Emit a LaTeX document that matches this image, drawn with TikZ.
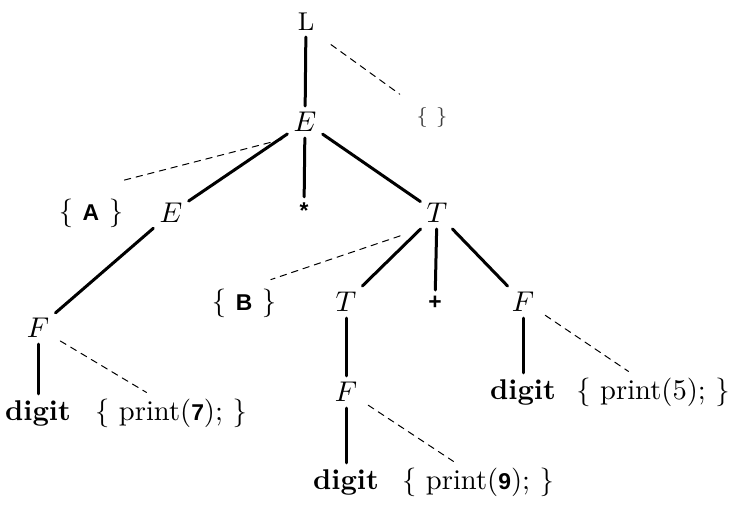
\documentclass[tikz,border=0pt]{standalone}
\usepackage{fontspec}
\newfontfamily\arialfont{Liberation Sans}
\newcommand\sanstok[1]{{\arialfont\bfseries\fontsize{8}{9}\selectfont #1}}

\begin{document}
\begin{tikzpicture}[
  x=0.35pt,y=-0.35pt,
  line cap=round,
  edge/.style={line width=1.05pt},
  action/.style={line width=0.35pt,dash pattern=on 2.3pt off 1.9pt,
    shorten <=2pt},
  sym/.style={inner sep=2pt}
]
  \useasboundingbox (0,0) rectangle (745,521);

  % Grammar symbols of the tree.
  \node[sym] (L) at (306,22) {\small L};
  \node[sym] (E) at (305,122) {$E$};
  \node[sym] (El) at (171,213) {$E$};
  \node[sym] (star) at (304,211) {\sanstok{*}};
  \node[sym] (T) at (437,213) {$T$};
  \node[sym] (Tl) at (346,302) {$T$};
  \node[sym] (plus) at (435,303) {\sanstok{+}};
  \node[sym] (Fr) at (523,302) {$F$};
  \node[sym] (Fl) at (38,328) {$F$};
  \node[sym] (Fm) at (346,392) {$F$};
  \node[sym] (dl) at (38,413) {\textbf{digit}};
  \node[sym] (dr) at (523,392) {\textbf{digit}};
  \node[sym] (db) at (346,482) {\textbf{digit}};

  % Semantic actions.
  \node[sym,text=black!75] (Lact) at (432,118) {\scriptsize\{\ \}};
  \node[sym] (Aact) at (91,213) {\{ \sanstok{A} \}};
  \node[sym] (Bact) at (244,303) {\{ \sanstok{B} \}};
  \node[sym] (p7) at (171,413) {\{ print(\sanstok{7}); \}};
  \node[sym] (p5) at (653,392) {\{ print(5); \}};
  \node[sym] (p9) at (478,482) {\{ print(\sanstok{9}); \}};

  % Tree edges.
  \draw[edge] (L) -- (E);
  \draw[edge] (E) -- (El);
  \draw[edge] (E) -- (star);
  \draw[edge] (E) -- (T);
  \draw[edge] (El) -- (Fl);
  \draw[edge] (T) -- (Tl);
  \draw[edge] (T) -- (plus);
  \draw[edge] (T) -- (Fr);
  \draw[edge] (Fl) -- (dl);
  \draw[edge] (Tl) -- (Fm);
  \draw[edge] (Fr) -- (dr);
  \draw[edge] (Fm) -- (db);

  % Dashed links to the actions.
  \draw[action,shorten <=4.5pt,shorten >=4.5pt] (L.south east) -- (Lact.north west);
  \draw[action] (E.south west) -- ([xshift=-3pt,yshift=4pt]Aact.north east);
  \draw[action,shorten <=7.5pt] (T.south west) -- ([xshift=-4pt,yshift=1pt]Bact.north east);
  \draw[action] (Fl.-30) -- (p7.140);
  \draw[action] (Fr.-30) -- (p5.140);
  \draw[action] (Fm.-30) -- (p9.140);
\end{tikzpicture}
\end{document}
